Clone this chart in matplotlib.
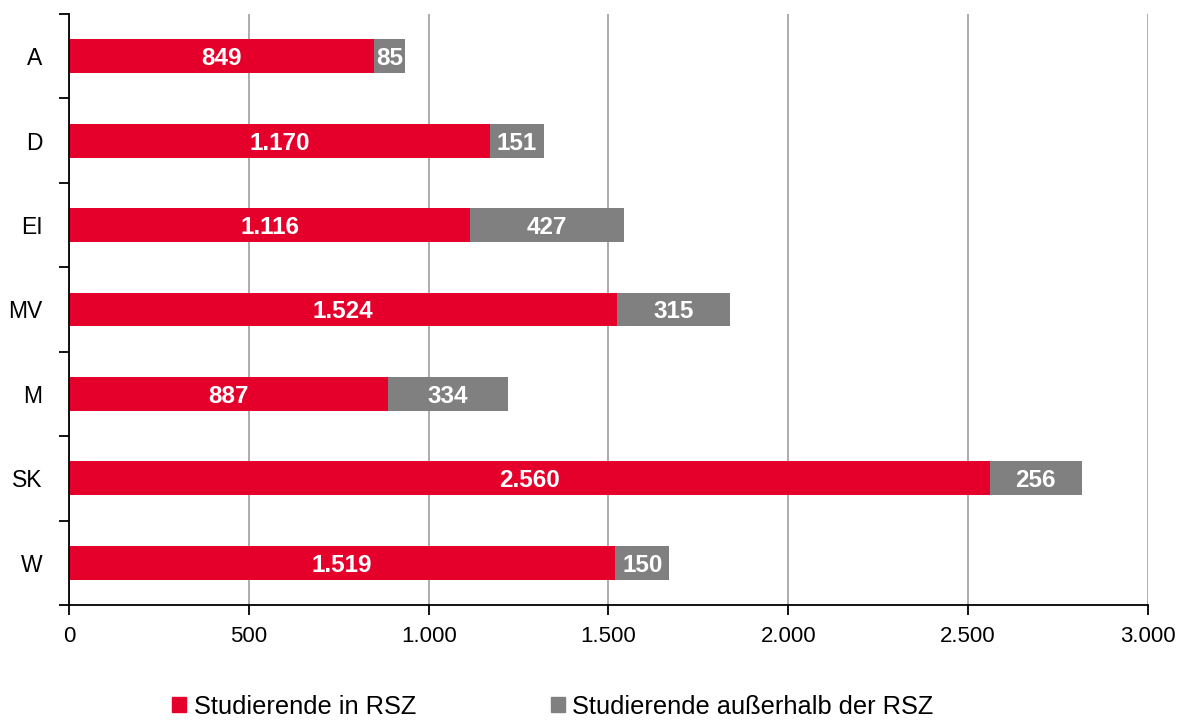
import matplotlib.pyplot as plt
from matplotlib.ticker import FuncFormatter
from matplotlib.patches import Patch

plt.rcParams['font.family'] = ['Liberation Sans', 'DejaVu Sans']

# Daten
kategorien = ['A', 'D', 'EI', 'MV', 'M', 'SK', 'W']
in_rsz = [849, 1170, 1116, 1524, 887, 2560, 1519]
ausserhalb_rsz = [85, 151, 427, 315, 334, 256, 150]
x_ticks = [0, 500, 1000, 1500, 2000, 2500, 3000]

rot = '#E4002B'
grau = '#808080'


def de_format(x, pos=None):
    return f'{int(round(x)):,}'.replace(',', '.')


fig = plt.figure(figsize=(11.85, 7.2), dpi=100)
ax = fig.add_axes([0.0582, 0.1597, 0.9106, 0.8209])

pos = list(range(len(kategorien)))[::-1]
hoehe = 0.4
ax.barh(pos, in_rsz, height=hoehe, color=rot, zorder=3)
ax.barh(pos, ausserhalb_rsz, left=in_rsz, height=hoehe, color=grau, zorder=3)

# Werte in die Balken schreiben
for p, a, b in zip(pos, in_rsz, ausserhalb_rsz):
    ax.text(a / 2, p, de_format(a), ha='center', va='center_baseline',
            color='white', fontsize=17.5, fontweight='bold', zorder=4)
    ax.text(a + b / 2, p, de_format(b), ha='center', va='center_baseline',
            color='white', fontsize=17.5, fontweight='bold', zorder=4)

ax.set_xlim(0, 3000)
ax.set_ylim(-0.5, len(kategorien) - 0.5)
ax.set_xticks(x_ticks)
ax.xaxis.set_major_formatter(FuncFormatter(de_format))

# Kategorien als Beschriftung, Striche an den Grenzen
ax.set_yticks([i - 0.5 for i in range(len(kategorien) + 1)])
ax.set_yticklabels([])
ax.set_yticks(pos, minor=True)
ax.set_yticklabels(kategorien, minor=True)
ax.tick_params(axis='y', which='minor', length=0, pad=19, labelsize=16.5)
ax.tick_params(axis='y', which='major', length=7, width=1.3, direction='out')
ax.tick_params(axis='x', length=7, width=1.3, direction='out', labelsize=16, pad=8)

ax.grid(axis='x', color='#A6A6A6', linewidth=1.3, zorder=0)
for s in ['top', 'right']:
    ax.spines[s].set_visible(False)
for s in ['left', 'bottom']:
    ax.spines[s].set_linewidth(1.3)
    ax.spines[s].set_zorder(5)

handles = [Patch(color=rot, label='Studierende in RSZ'),
           Patch(color=grau, label='Studierende außerhalb der RSZ')]
fig.legend(handles=handles, loc='lower left', bbox_to_anchor=(0.126, -0.03),
           ncol=2, frameon=False, fontsize=18.3, handlelength=0.55,
           handleheight=0.55, handletextpad=0.3, columnspacing=5.3)

fig.savefig('out.png', dpi=100)
